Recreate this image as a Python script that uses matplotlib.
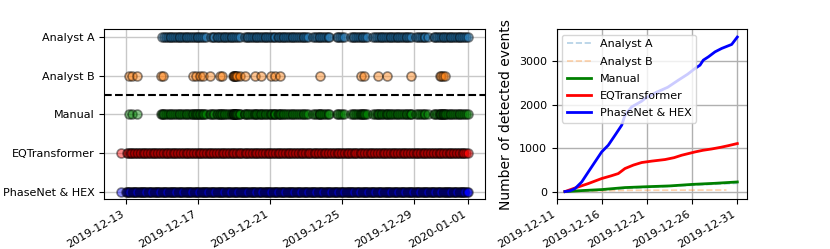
import numpy as np
import matplotlib
matplotlib.use('Agg')
import matplotlib.pyplot as plt
import matplotlib.dates as mdates
from datetime import datetime

# ── event times (days after 2019-12-13 00:00) ──
analyst_a_days = [2.0, 2.1, 2.2, 2.3, 2.42, 2.5, 2.62, 2.7, 2.8, 2.93, 3.0, 3.12, 3.2, 3.33,
                  3.4, 3.5, 3.62, 3.7, 3.8, 3.92, 4.0, 4.1, 4.2, 4.3, 4.42, 4.72, 4.8, 4.9,
                  5.02, 5.1, 5.2, 5.3, 5.42, 5.5, 5.6, 5.72, 5.8, 5.9, 6.0, 6.1, 6.22, 6.3,
                  6.62, 6.7, 6.8, 6.9, 7.0, 7.1, 7.2, 7.3, 7.4, 7.52, 7.6, 7.7, 7.8, 7.9, 8.0,
                  8.1, 8.2, 8.3, 8.42, 8.5, 8.6, 8.7, 8.8, 8.9, 9.0, 9.1, 9.2, 9.3, 9.4, 9.5,
                  9.6, 9.7, 9.82, 9.9, 10.02, 10.1, 10.4, 10.5, 10.6, 10.72, 10.8, 10.9, 11.0,
                  11.1, 11.2, 11.3, 11.7, 11.8, 11.9, 12.0, 12.12, 12.5, 12.6, 12.7, 12.8,
                  12.9, 13.0, 13.1, 13.2, 13.3, 13.42, 13.75, 13.85, 13.95, 14.05, 14.15,
                  14.25, 14.35, 14.45, 14.55, 14.65, 14.75, 14.85, 14.95, 15.05, 15.15,
                  15.25, 15.35, 15.45, 15.55, 15.65, 15.75, 15.85, 16.15, 16.25, 16.35,
                  16.45, 16.55, 16.65, 16.78, 17.1, 17.2, 17.3, 17.4, 17.5, 17.6, 17.7,
                  17.8, 17.9, 18.0, 18.1, 18.2, 18.3, 18.4, 18.5, 18.6, 18.7, 18.8, 18.9, 19.0]
analyst_b_days = [0.14, 0.31, 0.61, 1.94, 2.03, 3.71, 3.90, 4.08, 4.27, 4.64, 5.20, 5.35,
                  5.94, 5.98, 6.02, 6.06, 6.13, 6.18, 6.31, 6.59, 7.15, 7.52, 8.08, 8.26,
                  8.54, 10.77, 13.09, 13.22, 14.02, 14.52, 15.82, 17.45, 17.52, 17.60, 17.73]
eqt_days = [-0.28, 0.02, 0.1, 0.18, 0.26, 0.33, 0.42, 0.5, 0.58, 0.66, 0.74, 0.82, 0.9,
            0.97, 1.05, 1.14, 1.22, 1.3, 1.38, 1.46, 1.53, 1.6, 1.7, 1.78, 1.86, 1.94, 2.02,
            2.1, 2.18, 2.25, 2.33, 2.42, 2.5, 2.58, 2.65, 2.73, 2.82, 2.9, 2.98, 3.06, 3.14,
            3.22, 3.3, 3.37, 3.45, 3.54, 3.62, 3.7, 3.78, 3.85, 3.94, 4.02, 4.1, 4.18, 4.26,
            4.33, 4.42, 4.5, 4.58, 4.66, 4.74, 4.82, 4.9, 4.97, 5.06, 5.14, 5.22, 5.3, 5.38,
            5.45, 5.54, 5.62, 5.7, 5.78, 5.86, 5.93, 6.02, 6.1, 6.18, 6.26, 6.34, 6.41, 6.5,
            6.58, 6.66, 6.74, 6.82, 6.9, 6.98, 7.05, 7.14, 7.22, 7.3, 7.38, 7.46, 7.53,
            7.62, 7.7, 7.78, 7.86, 7.94, 8.01, 8.1, 8.18, 8.26, 8.34, 8.42, 8.5, 8.58, 8.65,
            8.74, 8.82, 8.9, 8.98, 9.06, 9.13, 9.22, 9.3, 9.38, 9.46, 9.54, 9.61, 9.7, 9.78,
            9.86, 9.94, 10.02, 10.1, 10.18, 10.25, 10.34, 10.42, 10.5, 10.58, 10.66, 10.73,
            10.82, 10.9, 10.98, 11.06, 11.14, 11.21, 11.3, 11.38, 11.46, 11.54, 11.62, 11.7,
            11.78, 11.85, 11.94, 12.02, 12.1, 12.18, 12.26, 12.33, 12.42, 12.5, 12.58,
            12.66, 12.74, 12.81, 12.9, 12.98, 13.06, 13.14, 13.22, 13.3, 13.38, 13.45,
            13.54, 13.62, 13.7, 13.78, 13.86, 13.93, 14.02, 14.1, 14.18, 14.26, 14.34,
            14.41, 14.5, 14.58, 14.66, 14.74, 14.82, 14.9, 14.98, 15.05, 15.14, 15.22, 15.3,
            15.38, 15.46, 15.53, 15.62, 15.7, 15.78, 15.86, 15.94, 16.01, 16.1, 16.18,
            16.26, 16.34, 16.42, 16.5, 16.58, 16.65, 16.74, 16.82, 16.9, 16.98, 17.06,
            17.13, 17.22, 17.3, 17.38, 17.46, 17.54, 17.61, 17.7, 17.78, 17.86, 17.94,
            18.02, 18.1, 18.18, 18.25, 18.34, 18.42, 18.5, 18.58, 18.66, 18.73, 18.82,
            18.9, 19.0]
phasenet_days = [-0.28, 0.0, 0.05, 0.1, 0.15, 0.22, 0.3, 0.36, 0.42, 0.48, 0.55, 0.62,
                 0.68, 0.74, 0.8, 0.86, 0.93, 0.99, 1.05, 1.12, 1.2, 1.26, 1.31, 1.38, 1.45,
                 1.52, 1.58, 1.64, 1.7, 1.77, 1.84, 1.9, 1.96, 2.03, 2.1, 2.16, 2.22, 2.28,
                 2.35, 2.41, 2.47, 2.54, 2.6, 2.66, 2.73, 2.79, 2.85, 2.92, 2.98, 3.04, 3.1,
                 3.17, 3.24, 3.3, 3.36, 3.43, 3.5, 3.56, 3.62, 3.68, 3.75, 3.82, 3.88, 3.94,
                 4.0, 4.06, 4.13, 4.2, 4.26, 4.32, 4.38, 4.44, 4.5, 4.57, 4.64, 4.7, 4.77,
                 4.84, 4.9, 4.96, 5.02, 5.08, 5.15, 5.22, 5.28, 5.34, 5.4, 5.46, 5.53, 5.6,
                 5.66, 5.72, 5.78, 5.85, 5.91, 5.98, 6.04, 6.1, 6.16, 6.23, 6.3, 6.36, 6.42,
                 6.48, 6.55, 6.62, 6.68, 6.74, 6.8, 6.86, 6.93, 7.0, 7.06, 7.12, 7.18, 7.24,
                 7.31, 7.38, 7.44, 7.5, 7.57, 7.64, 7.7, 7.76, 7.82, 7.88, 7.95, 8.02, 8.08,
                 8.14, 8.2, 8.27, 8.34, 8.4, 8.46, 8.53, 8.6, 8.66, 8.72, 8.78, 8.85, 8.92,
                 8.98, 9.04, 9.1, 9.16, 9.23, 9.3, 9.36, 9.43, 9.5, 9.56, 9.62, 9.68, 9.75,
                 9.82, 9.88, 9.94, 10.0, 10.06, 10.13, 10.2, 10.26, 10.33, 10.4, 10.46,
                 10.52, 10.58, 10.65, 10.72, 10.78, 10.84, 10.9, 10.97, 11.04, 11.1, 11.16,
                 11.23, 11.3, 11.36, 11.42, 11.48, 11.55, 11.62, 11.68, 11.74, 11.8, 11.87,
                 11.94, 12.0, 12.06, 12.13, 12.2, 12.26, 12.32, 12.38, 12.45, 12.52, 12.58,
                 12.64, 12.7, 12.77, 12.84, 12.9, 12.96, 13.03, 13.1, 13.16, 13.22, 13.28,
                 13.35, 13.42, 13.48, 13.54, 13.6, 13.67, 13.74, 13.8, 13.86, 13.93, 14.0,
                 14.06, 14.12, 14.18, 14.25, 14.32, 14.38, 14.44, 14.5, 14.57, 14.64, 14.7,
                 14.76, 14.83, 14.9, 14.96, 15.02, 15.08, 15.15, 15.22, 15.28, 15.34, 15.4,
                 15.47, 15.54, 15.6, 15.66, 15.73, 15.8, 15.86, 15.92, 15.98, 16.05, 16.12,
                 16.18, 16.24, 16.3, 16.37, 16.44, 16.5, 16.56, 16.63, 16.7, 16.76, 16.82,
                 16.88, 16.95, 17.02, 17.08, 17.14, 17.2, 17.27, 17.34, 17.4, 17.46, 17.53,
                 17.6, 17.66, 17.72, 17.78, 17.85, 17.92, 17.98, 18.04, 18.1, 18.17, 18.24,
                 18.3, 18.36, 18.43, 18.5, 18.56, 18.62, 18.68, 18.75, 18.82, 18.88, 18.94,
                 19.0]

# ── cumulative counts (days after 2019-12-11 00:00, count) ──
cum_a_days = [0.92, 3.0, 5.0, 7.6, 10.0, 13.0, 15.0, 17.0, 20.0]
cum_a_vals = [0, 15, 35, 70, 95, 125, 145, 165, 190]
cum_b_days = [0.92, 2.0, 4.0, 6.0, 8.0, 10.0, 14.0, 18.8]
cum_b_vals = [0, 3, 12, 20, 28, 30, 33, 36]
cum_man_days = [0.92, 3.0, 4.98, 7.56, 10.0, 12.5, 15.0, 17.5, 20.0]
cum_man_vals = [0, 25, 46, 92, 112, 130, 165, 190, 221]
cum_eqt_days = [0.92, 2.0, 3.5, 4.98, 6.0, 6.82, 7.56, 8.5, 9.41, 10.5, 12.0, 13.0, 13.84,
                15.32, 16.2, 17.16, 18.2, 19.0, 20.0]
cum_eqt_vals = [0, 80, 184, 300, 360, 414, 530, 610, 668, 700, 737, 780, 836, 912, 950,
                980, 1020, 1056, 1105]
cum_pn_days = [0.92, 1.5, 2.03, 2.77, 3.5, 4.24, 4.98, 5.71, 6.46, 7.2, 7.56, 8.31, 9.41,
               9.78, 11.0, 12.3, 13.47, 14.5, 15.32, 15.87, 16.23, 16.8, 17.53, 18.27,
               19.38, 20.0]
cum_pn_vals = [0, 20, 69, 221, 451, 682, 912, 1066, 1296, 1527, 1757, 1949, 2079, 2141,
               2280, 2400, 2563, 2700, 2832, 2908, 3023, 3100, 3214, 3293, 3385, 3555]

labels = ['PhaseNet & HEX', 'EQTransformer', 'Manual', 'Analyst B', 'Analyst A']

t0 = mdates.date2num(datetime(2019, 12, 13))
t1 = mdates.date2num(datetime(2019, 12, 11))

fig = plt.figure(figsize=(8.3, 2.49), dpi=100)
ax1 = fig.add_axes([0.1253, 0.1996, 0.459, 0.6827])
ax2 = fig.add_axes([0.6707, 0.1996, 0.2296, 0.6827])

manual_days = sorted(analyst_a_days + analyst_b_days)
rows = [(phasenet_days, 'blue'), (eqt_days, 'red'), (manual_days, 'green'),
        (analyst_b_days, 'tab:orange'), (analyst_a_days, 'tab:blue')]
for i, (days, c) in enumerate(rows):
    x = t0 + np.array(days)
    ax1.scatter(x, np.full(len(x), i), s=42, color=c, edgecolor='k', linewidth=1.2,
                alpha=0.45, zorder=2)
ax1.axhline(2.5, color='k', linestyle='--', linewidth=1.5, zorder=3)
ax1.set_yticks(range(5))
ax1.set_yticklabels(labels, fontsize=8)
ax1.set_ylim(-0.2, 4.2)
ax1.xaxis.set_major_locator(mdates.DayLocator(bymonthday=[1, 13, 17, 21, 25, 29]))
ax1.xaxis.set_major_formatter(mdates.DateFormatter('%Y-%m-%d'))
ax1.grid(True, color='#c8c8c8', linewidth=1.0, zorder=0)

ax2.plot(t1 + np.array(cum_a_days), cum_a_vals, color='tab:blue', alpha=0.35,
         linestyle='--', linewidth=1.2, label='Analyst A')
ax2.plot(t1 + np.array(cum_b_days), cum_b_vals, color='tab:orange', alpha=0.35,
         linestyle='--', linewidth=1.2, label='Analyst B')
ax2.plot(t1 + np.array(cum_man_days), cum_man_vals, color='green', linewidth=2, label='Manual')
ax2.plot(t1 + np.array(cum_eqt_days), cum_eqt_vals, color='red', linewidth=2,
         label='EQTransformer')
ax2.plot(t1 + np.array(cum_pn_days), cum_pn_vals, color='blue', linewidth=2,
         label='PhaseNet & HEX')
ax2.set_xlim(t1, t1 + 21.1)
ax2.xaxis.set_major_locator(mdates.DayLocator(bymonthday=[11, 16, 21, 26, 31]))
ax2.xaxis.set_major_formatter(mdates.DateFormatter('%Y-%m-%d'))
ax2.set_ylabel('Number of detected events', fontsize=10)
ax2.tick_params(axis='y', labelsize=8)
ax2.grid(True, color='#b0b0b0', linewidth=1.0)
ax2.legend(loc='upper left', fontsize=8, labelspacing=0.65, handlelength=2.2)

for ax in (ax1, ax2):
    for lab in ax.get_xticklabels():
        lab.set_rotation(30)
        lab.set_ha('right')
        lab.set_fontsize(8)

fig.savefig('out.png', dpi=100)
